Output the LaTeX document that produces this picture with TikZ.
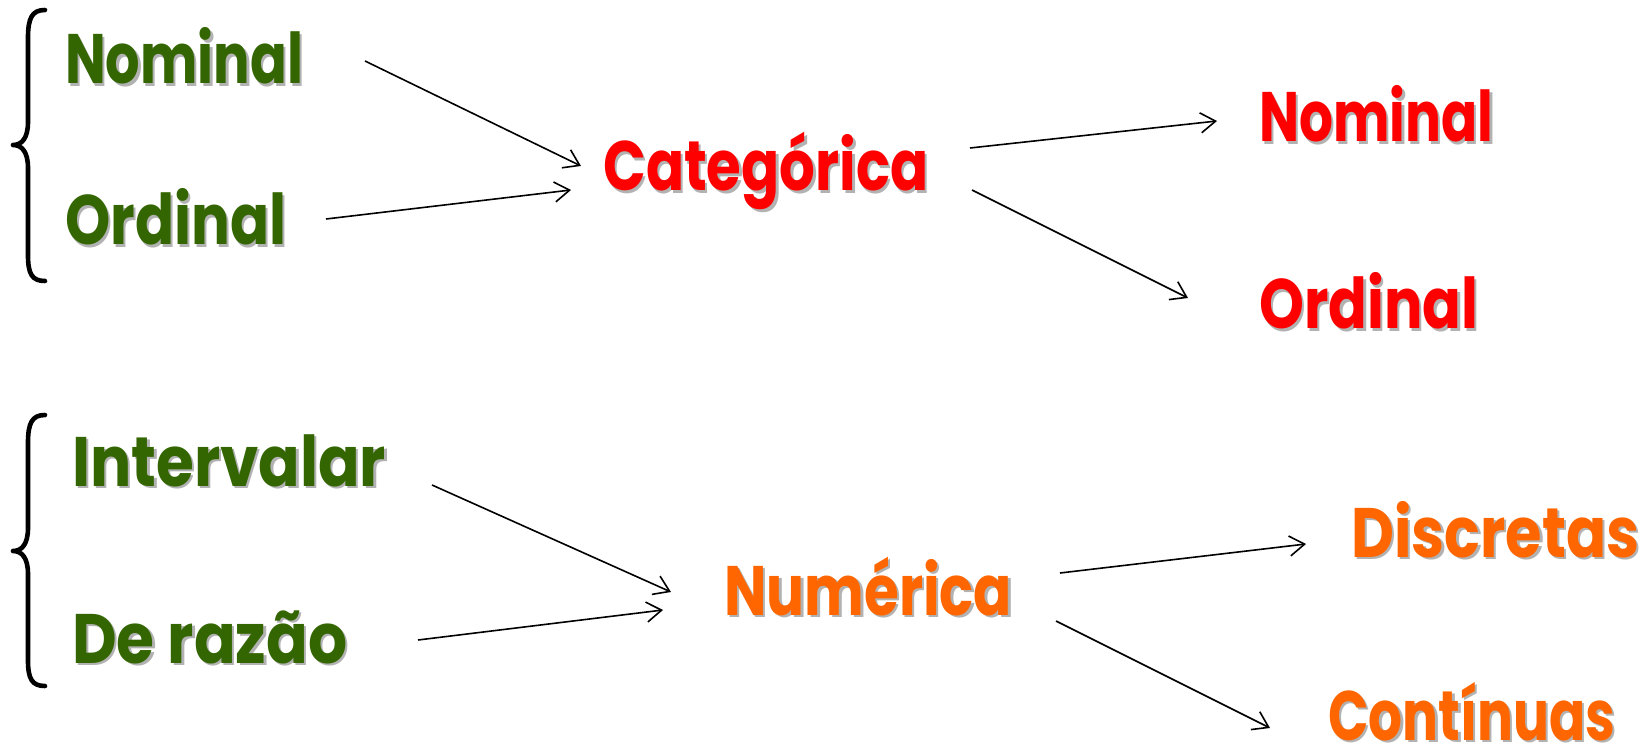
\documentclass[tikz,border=0pt]{standalone}
\usepackage{fontspec}
\usepackage{graphicx}
\newfontfamily\comic{Poppins}
\usetikzlibrary{arrows.meta,calc}
\definecolor{dgreen}{RGB}{51,102,0}
\definecolor{cred}{RGB}{255,0,0}
\definecolor{corange}{RGB}{255,102,0}
\tikzset{
  lab/.style={anchor=base west, inner sep=0pt, font=\comic\bfseries\fontsize{70}{80}\selectfont},
  shadowlab/.style={lab, text=black!55, opacity=0.55},
  conn/.style={line width=1.6pt, -{Straight Barb[length=15pt,width=20pt,line width=1.6pt]}},
  bracestyle/.style={line width=4.6pt, line cap=round, line join=round}
}
\newcommand\lbl[5]{%
  \node[shadowlab] at ($(#2)+(2.5,2.5)$) {\resizebox{#3pt}{\height}{#5}};
  \node[lab, text=#4] (#1) at (#2) {\resizebox{#3pt}{\height}{#5}};}
\begin{document}
\begin{tikzpicture}[x=1pt,y=-1pt]
\useasboundingbox (0,0) rectangle (1649,751);
% braces
\draw[bracestyle] (45,10) .. controls (32,10) and (28,18) .. (28,38) -- (28,122)
  .. controls (28,138) and (22,145) .. (13,145)
  .. controls (22,145) and (28,152) .. (28,168) -- (28,255)
  .. controls (28,274) and (32,281) .. (45,281);
\draw[bracestyle] (45,415) .. controls (32,415) and (28,423) .. (28,443) -- (28,528)
  .. controls (28,544) and (22,551) .. (13,551)
  .. controls (22,551) and (28,558) .. (28,574) -- (28,660)
  .. controls (28,679) and (32,686) .. (45,686);
% labels
\lbl{gnom}{65,84}{238}{dgreen}{Nominal}
\lbl{gord}{65,245}{221}{dgreen}{Ordinal}
\lbl{cat}{603,191}{325}{cred}{Categórica}
\lbl{rnom}{1259,142}{234}{cred}{Nominal}
\lbl{rord}{1259,329}{219}{cred}{Ordinal}
\lbl{inter}{72,486}{314}{dgreen}{Intervalar}
\lbl{razao}{72,663}{275}{dgreen}{De razão}
\lbl{num}{724,615}{288}{corange}{Numérica}
\lbl{disc}{1351,557}{288}{corange}{Discretas}
\lbl{cont}{1328,740}{287}{corange}{Contínuas}
% connector end points
\coordinate (a1s) at (365,61);  \coordinate (a1e) at (581,166);
\coordinate (a2s) at (326,219); \coordinate (a2e) at (571,190);
\coordinate (a3s) at (970,148); \coordinate (a3e) at (1217,121);
\coordinate (a4s) at (972,190); \coordinate (a4e) at (1188,298);
\coordinate (a5s) at (432,485); \coordinate (a5e) at (671,592);
\coordinate (a6s) at (418,640); \coordinate (a6e) at (663,610);
\coordinate (a7s) at (1060,573); \coordinate (a7e) at (1306,544);
\coordinate (a8s) at (1056,621); \coordinate (a8e) at (1270,728);
\draw[conn] (a1s) -- (a1e);
\draw[conn] (a2s) -- (a2e);
\draw[conn] (a3s) -- (a3e);
\draw[conn] (a4s) -- (a4e);
\draw[conn] (a5s) -- (a5e);
\draw[conn] (a6s) -- (a6e);
\draw[conn] (a7s) -- (a7e);
\draw[conn] (a8s) -- (a8e);
\end{tikzpicture}
\end{document}
